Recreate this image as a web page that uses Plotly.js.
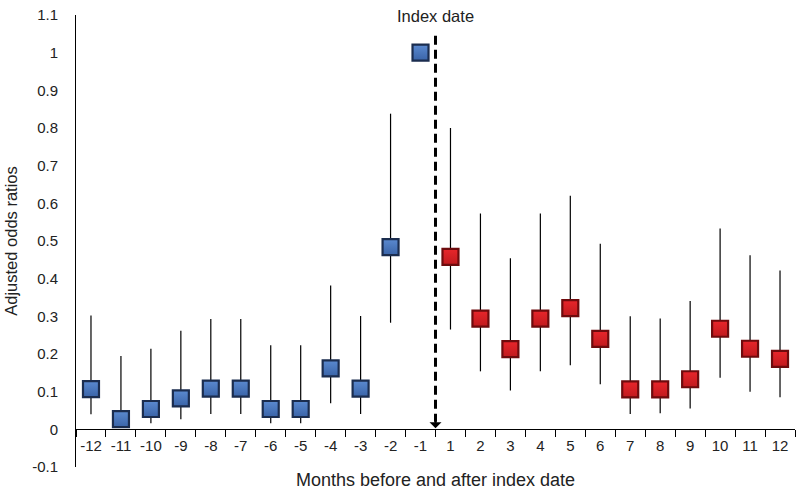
<!DOCTYPE html>
<html>
<head>
<meta charset="utf-8">
<script src="https://cdn.plot.ly/plotly-3.0.1.min.js"></script>
<style>html,body{margin:0;padding:0;background:#fff;}#chart{width:797px;height:493px;}</style>
</head>
<body>
<div id="chart"></div>
<script>
// Months before (-12..-1) and after (1..12) the index date
const monthsBefore = ['-12','-11','-10','-9','-8','-7','-6','-5','-4','-3','-2','-1'];
const monthsAfter  = ['1','2','3','4','5','6','7','8','9','10','11','12'];

// Adjusted odds ratios with lower / upper confidence limits
const beforeOR = [0.107,0.027,0.054,0.082,0.108,0.108,0.054,0.054,0.162,0.108,0.484,1.0];
const beforeHi = [0.302,0.195,0.214,0.262,0.293,0.293,0.223,0.223,0.382,0.301,0.838,1.0];
const beforeLo = [0.040,0.010,0.016,0.027,0.041,0.041,0.016,0.016,0.069,0.041,0.283,1.0];

const afterOR = [0.458,0.294,0.213,0.294,0.322,0.240,0.106,0.106,0.133,0.267,0.214,0.187];
const afterHi = [0.800,0.573,0.454,0.573,0.620,0.493,0.300,0.294,0.341,0.533,0.462,0.422];
const afterLo = [0.265,0.154,0.103,0.154,0.170,0.120,0.041,0.043,0.055,0.137,0.100,0.085];

const yTickVals = [-0.1,0,0.1,0.2,0.3,0.4,0.5,0.6,0.7,0.8,0.9,1,1.1];
const yTickText = ['-0.1','0','0.1','0.2','0.3','0.4','0.5','0.6','0.7','0.8','0.9','1','1.1'];

const allMonths = monthsBefore.concat(monthsAfter);

function errs(vals, hi, lo){
  return {
    type:'data', symmetric:false,
    array: hi.map((h,i)=>h-vals[i]),
    arrayminus: lo.map((l,i)=>vals[i]-l),
    color:'#000', thickness:1.2, width:0
  };
}

const traces = [
  {
    x: monthsBefore, y: beforeOR, type:'scatter', mode:'markers',
    error_y: errs(beforeOR, beforeHi, beforeLo),
    marker:{symbol:'square', size:16, color:'#5b8ad0',
      gradient:{type:'vertical', color:'#3a64a8'},
      line:{color:'#1b2d4f', width:2.2}},
    showlegend:false, hoverinfo:'x+y'
  },
  {
    x: monthsAfter, y: afterOR, type:'scatter', mode:'markers',
    error_y: errs(afterOR, afterHi, afterLo),
    marker:{symbol:'square', size:16, color:'#e8262b',
      gradient:{type:'vertical', color:'#c01a1e'},
      line:{color:'#6e0b0d', width:2.2}},
    showlegend:false, hoverinfo:'x+y'
  }
];

const font = {family:'"Liberation Sans", Arial, sans-serif', color:'#222'};

const layout = {
  width:797, height:493,
  margin:{l:76, r:2, t:15, b:26},
  paper_bgcolor:'#fff', plot_bgcolor:'#fff',
  font: Object.assign({size:15}, font),
  xaxis:{
    type:'category', categoryorder:'array', categoryarray: allMonths,
    range:[-0.5, 23.5],
    anchor:'free', position: 0.1/1.2,
    showline:true, linecolor:'#000', linewidth:1,
    ticks:'outside', ticklen:7, tickcolor:'#000', tickwidth:1,
    tickson:'boundaries', tickangle:0, ticklabelstandoff:3,
    showgrid:false, zeroline:false,
    tickfont:{size:15},
    title:{text:'Months before and after index date', font:{size:18}, standoff:20}
  },
  yaxis:{
    range:[-0.1, 1.1],
    tickvals: yTickVals, ticktext: yTickText,
    showline:true, linecolor:'#000', linewidth:1,
    ticks:'', ticklabelstandoff:14,
    showgrid:false, zeroline:false,
    tickfont:{size:15},
    title:{text:'Adjusted odds ratios', font:{size:16.5}, standoff:10}
  },
  shapes:[
    {type:'line', xref:'x', yref:'y', x0:11.5, x1:11.5, y0:1.045, y1:0.02,
     line:{color:'#000', width:3, dash:'9px,5px'}}
  ],
  annotations:[
    {x:11.5, y:1.097, xref:'x', yref:'y', text:'Index date', showarrow:false,
     font:{size:16.5, color:'#222'}},
    {x:11.5, y:0.003, xref:'x', yref:'y', ax:0, ay:-14, showarrow:true,
     arrowhead:1, arrowsize:1, arrowwidth:2, arrowcolor:'#000', text:''}
  ]
};

Plotly.newPlot('chart', traces, layout, {displayModeBar:false, staticPlot:true});
</script>
</body>
</html>
